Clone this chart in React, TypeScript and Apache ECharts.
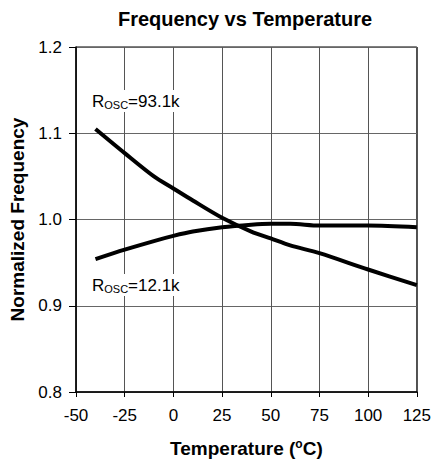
import React, { useEffect, useRef } from "react";
import * as echarts from "echarts";

const temps = [-40, -25, -10, 0, 10, 25, 40, 50, 60, 75, 100, 125];
const r931k = [1.105, 1.077, 1.05, 1.036, 1.022, 1.002, 0.986, 0.978, 0.97, 0.961, 0.942, 0.924];
const r121k = [0.954, 0.965, 0.975, 0.981, 0.986, 0.991, 0.994, 0.995, 0.995, 0.993, 0.993, 0.991];
const xTicks = [-50, -25, 0, 25, 50, 75, 100, 125];
const yTicks = [0.8, 0.9, 1.0, 1.1, 1.2];

const FONT = "Liberation Sans, Arial, sans-serif";

export default function App() {
  const ref = useRef<HTMLDivElement>(null);
  useEffect(() => {
    const chart = echarts.init(ref.current!, null, { renderer: "svg" });
    const lineSeries = (name: string, vals: number[]) => ({
      name,
      type: "line",
      data: temps.map((t, i) => [t, vals[i]]),
      smooth: 0.3,
      showSymbol: false,
      lineStyle: { color: "#000", width: 4 },
      z: 5,
    });
    const labelRich = {
      r: { fontFamily: FONT, fontSize: 17, fill: "#000" },
      s: { fontFamily: FONT, fontSize: 11, fill: "#000", verticalAlign: "bottom", padding: [7, 0, 0, 0] },
    };
    chart.setOption({
      animation: false,
      backgroundColor: "#fff",
      title: {
        text: "Frequency vs Temperature",
        left: 240,
        top: 4,
        textAlign: "center",
        textStyle: { fontFamily: FONT, fontSize: 20, fontWeight: "bold", color: "#000" },
      },
      grid: { left: 76, right: 15, top: 47, bottom: 73, containLabel: false, show: true, borderColor: "#000", borderWidth: 1 },
      xAxis: {
        type: "value",
        min: -50,
        max: 125,
        interval: 25,
        name: "Temperature ({sup|o}C)",
        nameLocation: "middle",
        nameGap: 46,
        nameTextStyle: {
          fontFamily: FONT, fontSize: 19, fontWeight: "bold", color: "#000",
          rich: { sup: { fontFamily: FONT, fontSize: 12, fontWeight: "bold", color: "#000", verticalAlign: "top", padding: [0, 0, 8, 0] } },
        },
        axisLine: { onZero: false, lineStyle: { color: "#000", width: 1.5 } },
        axisTick: { show: true, length: 5, lineStyle: { color: "#000" } },
        axisLabel: { fontFamily: FONT, fontSize: 17, color: "#000", margin: 15, formatter: (v: number) => (xTicks.includes(v) ? String(v) : "") },
        splitLine: { show: true, lineStyle: { color: "#555", width: 1 } },
      },
      yAxis: {
        type: "value",
        min: 0.8,
        max: 1.2,
        interval: 0.1,
        name: "Normalized Frequency",
        nameLocation: "middle",
        nameGap: 47,
        nameTextStyle: { fontFamily: FONT, fontSize: 19, fontWeight: "bold", color: "#000" },
        axisLine: { show: true, onZero: false, lineStyle: { color: "#000", width: 1.5 } },
        axisTick: { show: true, length: 7, lineStyle: { color: "#000" } },
        axisLabel: {
          fontFamily: FONT, fontSize: 17, color: "#000", margin: 14,
          formatter: (v: number) => {
            const t = yTicks.find((y) => Math.abs(y - v) < 1e-6);
            return t !== undefined ? t.toFixed(1) : "";
          },
        },
        splitLine: { show: true, lineStyle: { color: "#666", width: 1 } },
      },
      series: [lineSeries("Rosc=93.1k", r931k), lineSeries("Rosc=12.1k", r121k)],
      graphic: [
        {
          type: "text",
          left: 91,
          top: 90,
          z: 10,
          style: { text: "{r|R}{s|OSC}{r|=93.1k}", backgroundColor: "#fff", padding: [2, 1], rich: labelRich },
        },
        {
          type: "text",
          left: 91,
          top: 274,
          z: 10,
          style: { text: "{r|R}{s|OSC}{r|=12.1k}", backgroundColor: "#fff", padding: [2, 1], rich: labelRich },
        },
      ],
    });
    return () => chart.dispose();
  }, []);
  return <div ref={ref} style={{ width: 434, height: 465, position: "absolute", left: 0, top: 0 }} />;
}
